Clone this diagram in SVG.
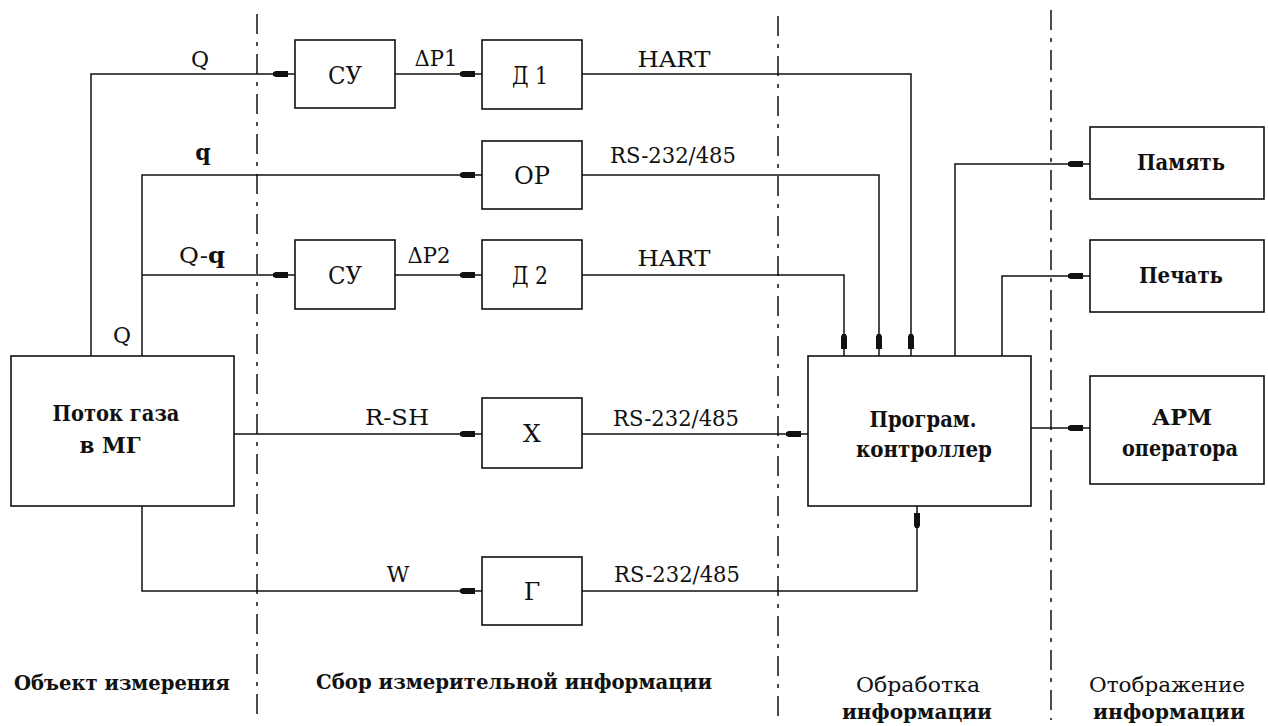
<svg xmlns="http://www.w3.org/2000/svg" width="1268" height="726" viewBox="0 0 1268 726">
<style>
  .box { fill: #fff; stroke: #111; stroke-width: 1.6; }
  .ln { fill: none; stroke: #111; stroke-width: 1.5; }
  .arr { marker-end: url(#blk); }
  .div { fill: none; stroke: #111; stroke-width: 1.5; stroke-dasharray: 20 8 4 8; }
  text { font-family: "DejaVu Serif", "Times New Roman", serif; fill: #111; }
  .lbl { font-size: 22px; text-anchor: middle; }
  .lblb { font-size: 22px; text-anchor: middle; font-weight: bold; }
  .bt { font-size: 25px; text-anchor: middle; }
  .bb { font-size: 22px; text-anchor: middle; font-weight: bold; }
  .cap { font-size: 21px; text-anchor: middle; font-weight: bold; }
  .capn { font-size: 21px; text-anchor: middle; }
</style>
<defs>
  <marker id="blk" markerUnits="userSpaceOnUse" markerWidth="24" markerHeight="8" refX="22" refY="4" orient="auto" overflow="visible">
    <path d="M0,2.2 L2.5,1 L15,1 L15,7 L2.5,7 L0,5.8 Z" fill="#111"/>
  </marker>
</defs>
<rect width="1268" height="726" fill="#fff"/>

<g id="dividers">
  <line class="div" x1="257" y1="14" x2="257" y2="716"/>
  <line class="div" x1="778" y1="16" x2="778" y2="716"/>
  <line class="div" x1="1051" y1="10" x2="1051" y2="720"/>
</g>

<g id="connectors">
  <path class="ln arr" d="M91,356 V74 H295"/>
  <path class="ln arr" d="M142,356 V175 H482"/>
  <path class="ln arr" d="M142,275 H295"/>
  <path class="ln arr" d="M395,74 H482"/>
  <path class="ln arr" d="M395,275 H482"/>
  <path class="ln arr" d="M582,74 H911 V356"/>
  <path class="ln arr" d="M582,175 H879 V356"/>
  <path class="ln arr" d="M582,275 H844 V356"/>
  <path class="ln arr" d="M234,434 H482"/>
  <path class="ln arr" d="M582,434 H808"/>
  <path class="ln arr" d="M142,506 V591 H482"/>
  <path class="ln arr" d="M582,591 H917 V506"/>
  <path class="ln arr" d="M955,356 V164 H1090"/>
  <path class="ln arr" d="M1002,356 V276 H1090"/>
  <path class="ln arr" d="M1031,428 H1090"/>
  <text class="lbl" x="200" y="67">Q</text>
  <text class="lbl" x="436" y="66" textLength="43" lengthAdjust="spacingAndGlyphs">ΔP1</text>
  <text class="lbl" x="674" y="67" textLength="73" lengthAdjust="spacingAndGlyphs">HART</text>
  <text class="lblb" x="203" y="160">q</text>
  <text class="lbl" x="673" y="163" textLength="126" lengthAdjust="spacingAndGlyphs">RS-232/485</text>
  <text class="lbl" x="202" y="263" textLength="46" lengthAdjust="spacingAndGlyphs">Q-<tspan font-weight="bold">q</tspan></text>
  <text class="lbl" x="429" y="263" textLength="43" lengthAdjust="spacingAndGlyphs">ΔP2</text>
  <text class="lbl" x="674" y="266" textLength="73" lengthAdjust="spacingAndGlyphs">HART</text>
  <text class="lbl" x="122" y="343">Q</text>
  <text class="lbl" x="397" y="425" textLength="64" lengthAdjust="spacingAndGlyphs">R-SH</text>
  <text class="lbl" x="676" y="426" textLength="126" lengthAdjust="spacingAndGlyphs">RS-232/485</text>
  <text class="lbl" x="398" y="582">W</text>
  <text class="lbl" x="677" y="582" textLength="126" lengthAdjust="spacingAndGlyphs">RS-232/485</text>
</g>

<g id="gas">
  <rect class="box" x="11" y="356" width="223" height="150"/>
  <text class="bb" x="116" y="421" textLength="127" lengthAdjust="spacingAndGlyphs">Поток газа</text>
  <text class="bb" x="110" y="453" textLength="61" lengthAdjust="spacingAndGlyphs">в МГ</text>
</g>
<g id="su1">
  <rect class="box" x="295" y="40" width="100" height="68"/>
  <text class="bt" x="345" y="84" textLength="34" lengthAdjust="spacingAndGlyphs">СУ</text>
</g>
<g id="d1">
  <rect class="box" x="482" y="40" width="100" height="69"/>
  <text class="bt" x="530" y="84" textLength="36" lengthAdjust="spacingAndGlyphs">Д 1</text>
</g>
<g id="op">
  <rect class="box" x="482" y="141" width="100" height="68"/>
  <text class="bt" x="532" y="184" textLength="36" lengthAdjust="spacingAndGlyphs">ОР</text>
</g>
<g id="su2">
  <rect class="box" x="295" y="240" width="100" height="69"/>
  <text class="bt" x="345" y="284" textLength="34" lengthAdjust="spacingAndGlyphs">СУ</text>
</g>
<g id="d2">
  <rect class="box" x="482" y="240" width="100" height="69"/>
  <text class="bt" x="530" y="284" textLength="36" lengthAdjust="spacingAndGlyphs">Д 2</text>
</g>
<g id="x">
  <rect class="box" x="482" y="398" width="100" height="70"/>
  <text class="bt" x="532" y="442">Х</text>
</g>
<g id="g">
  <rect class="box" x="482" y="557" width="100" height="68"/>
  <text class="bt" x="532" y="600">Г</text>
</g>
<g id="ctrl">
  <rect class="box" x="808" y="356" width="223" height="150"/>
  <text class="bb" x="923" y="427" textLength="107" lengthAdjust="spacingAndGlyphs">Програм.</text>
  <text class="bb" x="924" y="457" textLength="136" lengthAdjust="spacingAndGlyphs">контроллер</text>
</g>
<g id="mem">
  <rect class="box" x="1090" y="127" width="174" height="72"/>
  <text class="bb" x="1181" y="170" textLength="88" lengthAdjust="spacingAndGlyphs">Память</text>
</g>
<g id="print">
  <rect class="box" x="1090" y="240" width="174" height="72"/>
  <text class="bb" x="1181" y="283" textLength="84" lengthAdjust="spacingAndGlyphs">Печать</text>
</g>
<g id="arm">
  <rect class="box" x="1090" y="376" width="174" height="108"/>
  <text class="bb" x="1182" y="425" textLength="60" lengthAdjust="spacingAndGlyphs">АРМ</text>
  <text class="bb" x="1180" y="456" textLength="116" lengthAdjust="spacingAndGlyphs">оператора</text>
</g>

<g id="captions">
  <text class="cap" x="122" y="690" textLength="216" lengthAdjust="spacingAndGlyphs">Объект измерения</text>
  <text class="cap" x="514" y="689" textLength="396" lengthAdjust="spacingAndGlyphs">Сбор измерительной информации</text>
  <text class="capn" x="918" y="692" textLength="124" lengthAdjust="spacingAndGlyphs">Обработка</text>
  <text class="cap" x="917" y="719" textLength="150" lengthAdjust="spacingAndGlyphs">информации</text>
  <text class="capn" x="1167" y="692" textLength="156" lengthAdjust="spacingAndGlyphs">Отображение</text>
  <text class="cap" x="1169" y="719" textLength="152" lengthAdjust="spacingAndGlyphs">информации</text>
</g>
</svg>
